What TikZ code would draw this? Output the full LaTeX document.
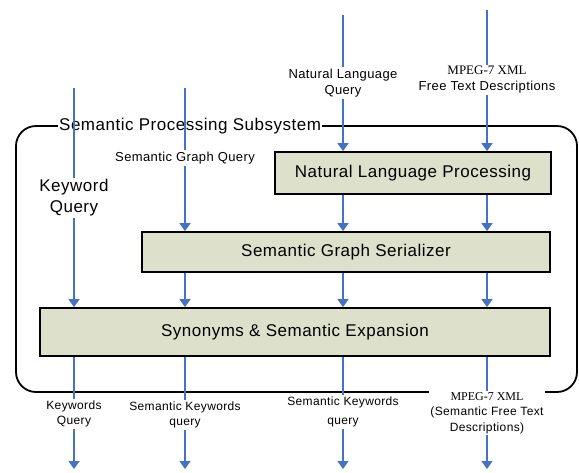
\documentclass[tikz,border=0pt]{standalone}
\usepackage{fontspec}
\setmainfont[LetterSpace=3]{Liberation Sans}
\newfontfamily\mpegfont{Liberation Serif}
\usetikzlibrary{arrows.meta,positioning}
\definecolor{flowblue}{RGB}{68,114,196}
\definecolor{boxfill}{RGB}{221,224,203}
\tikzset{
  procbox/.style={draw=black, line width=1.8pt, fill=boxfill, font=\fontsize{17}{20}\selectfont},
  flow/.style={draw=flowblue, line width=1.6pt, -{Triangle[width=11pt,length=8pt]}},
  flowlab/.style={fill=white, inner sep=1.5pt, align=center, font=\fontsize{13}{16}\selectfont},
  outlab/.style={flowlab, font=\fontsize{12}{15.5}\selectfont},
}
\begin{document}
\begin{tikzpicture}[x=1pt,y=-1pt]
  \useasboundingbox (0,0) rectangle (579,472);

  \def\xa{74}% keyword column
  \def\xb{185}% semantic graph column
  \def\xc{343}% natural language column
  \def\xd{487}% mpeg-7 column

  % subsystem frame
  \draw[line width=1.8pt, rounded corners=20pt] (16,126) rectangle (577,392);
  \node[anchor=west, fill=white, inner sep=1pt, font=\fontsize{17}{20}\selectfont]
    (subsys) at (58,126) {Semantic Processing Subsystem};

  % processing blocks
  \node[procbox, minimum width=276pt, minimum height=42pt] (nlp) at (413,173) {Natural Language Processing};
  \node[procbox, minimum width=408pt, minimum height=40pt] (ser) at (346,252) {Semantic Graph Serializer};
  \node[procbox, minimum width=510pt, minimum height=48pt] (syn) at (295,332) {Synonyms \& Semantic Expansion};

  % inputs
  \coordinate (kwin) at (\xa,88);
  \coordinate (sgin) at (\xb,88);
  \coordinate (nlin) at (\xc,15);
  \coordinate (mpin) at (\xd,10);
  \node[flowlab, font=\fontsize{17}{21}\selectfont] (kwlab) at (\xa,198) {Keyword\\Query};
  \node[flowlab] (sglab) at (\xb,158) {Semantic Graph Query};
  \node[flowlab] (nllab) at (\xc,83) {Natural Language\\Query};
  \node[flowlab] (mplab) at (\xd,80) {{\mpegfont MPEG-7 XML}\\Free Text Descriptions};

  \draw[flow] (kwin) -- (kwlab) -- (syn.north -| kwin);
  \draw[flow] (sgin) -- (sglab) -- (ser.north -| sgin);
  \draw[flow] (nlin) -- (nllab) -- (nlp.north -| nlin);
  \draw[flow] (mpin) -- (mplab) -- (nlp.north -| mpin);

  % between blocks
  \draw[flow] (nlp.south -| nlin) -- (ser.north -| nlin);
  \draw[flow] (nlp.south -| mpin) -- (ser.north -| mpin);
  \draw[flow] (ser.south -| sgin) -- (syn.north -| sgin);
  \draw[flow] (ser.south -| nlin) -- (syn.north -| nlin);
  \draw[flow] (ser.south -| mpin) -- (syn.north -| mpin);

  % outputs
  \coordinate (kwout) at (\xa,469);
  \coordinate (sgout) at (\xb,469);
  \coordinate (nlout) at (\xc,469);
  \coordinate (mpout) at (\xd,469);
  \node[outlab] (kwslab) at (\xa,414) {Keywords\\Query};
  \node[outlab] (sk1lab) at (\xb,415) {Semantic Keywords\\query};
  \node[outlab] (sk2lab) at (\xc,412) {Semantic Keywords\\[3pt]query};
  \node[outlab] (mpolab) at (\xd,413) {{\mpegfont MPEG-7 XML}\\(Semantic Free Text\\Descriptions)};

  \draw[flow] (syn.south -| kwout) -- (kwslab) -- (kwout);
  \draw[flow] (syn.south -| sgout) -- (sk1lab) -- (sgout);
  \draw[flow] (syn.south -| nlout) -- (sk2lab) -- (nlout);
  \draw[flow] (syn.south -| mpout) -- (mpolab) -- (mpout);
\end{tikzpicture}
\end{document}
